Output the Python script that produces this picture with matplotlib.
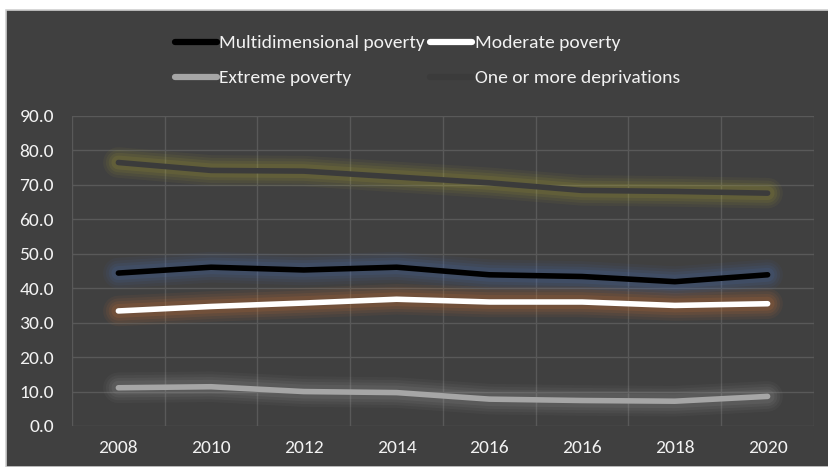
import matplotlib
matplotlib.use("Agg")
import matplotlib.pyplot as plt
from matplotlib.patches import Rectangle
from matplotlib.lines import Line2D
import numpy as np

years = ["2008", "2010", "2012", "2014", "2016", "2016", "2018", "2020"]
multidimensional = [44.4, 46.1, 45.3, 46.1, 43.9, 43.4, 41.9, 43.9]
moderate = [33.4, 34.7, 35.7, 36.8, 36.0, 36.0, 35.0, 35.5]
extreme = [11.1, 11.4, 10.0, 9.7, 7.8, 7.4, 7.2, 8.6]
deprivations = [76.5, 74.2, 74.0, 72.3, 70.6, 68.4, 68.1, 67.6]
yticks = [0, 10, 20, 30, 40, 50, 60, 70, 80, 90]

plt.rcParams['font.family'] = ['Carlito', 'Lato', 'DejaVu Sans']

W, H = 829, 467
fig = plt.figure(figsize=(W / 100, H / 100), dpi=100, facecolor='white')

# dark chart area
fig.patches.append(Rectangle((6 / W, 0), 1 - 6 / W, 1 - 10 / H, transform=fig.transFigure,
                             facecolor='#404040', edgecolor='#d0d0d0', linewidth=1.2, zorder=-5))

ax = fig.add_axes([72 / W, 1 - 426 / H, (814 - 72) / W, (426 - 116) / H])
ax.set_facecolor('none')
x = np.arange(len(years))

series = [
    (deprivations, '#3b3b3b', '#b8b030'),
    (multidimensional, '#000000', '#4472c4'),
    (moderate, '#ffffff', '#ed7d31'),
    (extreme, '#a6a6a6', '#a0a0a0'),
]
for vals, col, glow in series:
    for lw, a in [(22, 0.06), (18, 0.07), (14, 0.09), (10, 0.11)]:
        ax.plot(x, vals, color=glow, lw=lw, alpha=a, solid_capstyle='round',
                solid_joinstyle='round', zorder=2)
    ax.plot(x, vals, color=col, lw=4.0, solid_capstyle='round',
            solid_joinstyle='round', zorder=3)

ax.set_xlim(-0.5, len(years) - 0.5)
ax.set_ylim(0, 90)
ax.set_yticks(yticks)
ax.set_yticklabels([f"{v:.1f}" for v in yticks])
ax.set_xticks(x)
ax.set_xticklabels(years)
ax.set_xticks(np.arange(-0.5, len(years), 1), minor=True)
ax.grid(True, which='major', axis='y', color='#595959', lw=1.0, zorder=1)
ax.grid(True, which='minor', axis='x', color='#595959', lw=1.0, zorder=1)
ax.tick_params(axis='both', which='both', length=0, colors='#f2f2f2', labelsize=14)
ax.tick_params(axis='y', pad=13)
ax.tick_params(axis='x', pad=10)
for s in ax.spines.values():
    s.set_visible(False)

handles = [
    Line2D([], [], color='#000000', lw=4.5, solid_capstyle='round'),
    Line2D([], [], color='#a6a6a6', lw=4.5, solid_capstyle='round'),
    Line2D([], [], color='#ffffff', lw=4.5, solid_capstyle='round'),
    Line2D([], [], color='#3b3b3b', lw=4.5, solid_capstyle='round'),
]
labels = ["Multidimensional poverty", "Extreme poverty", "Moderate poverty",
          "One or more deprivations"]
fig.legend(handles, labels, ncol=2, loc='upper left', bbox_to_anchor=(165 / W, 1 - 25 / H),
           frameon=False, fontsize=14, labelcolor='#f2f2f2', handlelength=2.15,
           handletextpad=0.12, columnspacing=0.3, borderpad=0, labelspacing=0.95)

fig.savefig('out.png', dpi=100, facecolor='white')
